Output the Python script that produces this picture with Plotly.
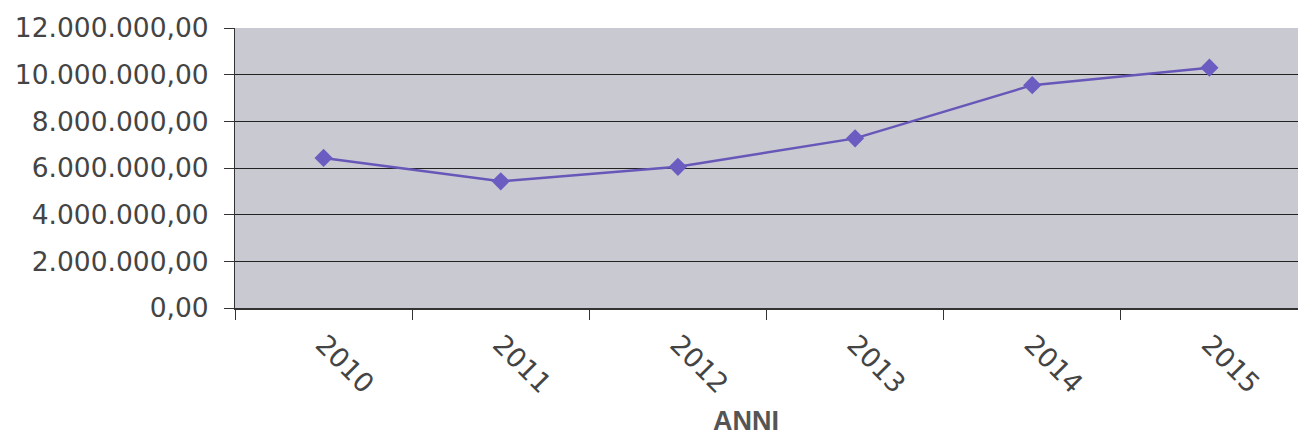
import plotly.graph_objects as go

years = ["2010", "2011", "2012", "2013", "2014", "2015"]
values = [6430000, 5430000, 6050000, 7270000, 9550000, 10300000]
y_ticks = [0, 2000000, 4000000, 6000000, 8000000, 10000000, 12000000]

fig = go.Figure()
fig.add_trace(go.Scatter(
    x=years, y=values, mode="lines+markers",
    line=dict(color="#6657b8", width=2.5),
    marker=dict(symbol="diamond", size=14, color="#6a5cc0"),
    showlegend=False,
))

fig.update_layout(
    width=1298, height=441,
    margin=dict(l=235, r=0, t=28, b=133),
    paper_bgcolor="white",
    plot_bgcolor="#c9c9d2",
    separators=",.",
    font=dict(family="DejaVu Sans, sans-serif", color="#444444"),
    xaxis=dict(
        type="category",
        range=[-0.5, 5.5],
        tickson="boundaries",
        ticks="outside", ticklen=10, tickcolor="#333333", tickwidth=1,
        tickangle=45,
        tickfont=dict(size=27, color="#444444"),
        ticklabelstandoff=8,
        showline=True, linecolor="#333333", linewidth=1.5,
        showgrid=False, zeroline=False,
    ),
    yaxis=dict(
        range=[0, 12000000],
        tickvals=y_ticks,
        tickformat=",.2f",
        ticks="outside", ticklen=10, tickcolor="#333333", tickwidth=1,
        tickfont=dict(size=26.5, color="#444444"),
        ticklabelstandoff=10,
        showline=True, linecolor="#333333", linewidth=1,
        showgrid=True, gridcolor="#222222", gridwidth=1,
        zeroline=False,
    ),
    annotations=[dict(
        text="<b>ANNI</b>", xref="paper", yref="paper",
        x=0.481, y=0, yshift=-113, yanchor="middle", showarrow=False,
        font=dict(family="Liberation Sans, Arial, sans-serif", size=27, color="#555555"),
    )],
)

fig.write_html("out.html")
